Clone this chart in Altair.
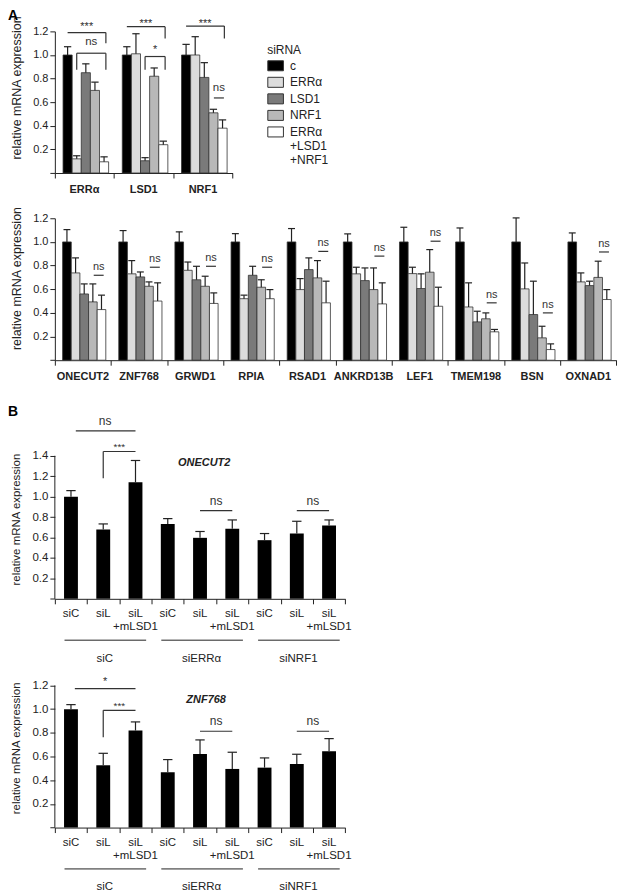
import altair as alt
import pandas as pd

FONT = "Liberation Sans"
INK = "#222222"

# ---------------- data ----------------
series = ["c", "ERRα", "LSD1", "NRF1", "ERRα+LSD1+NRF1"]
series_colors = ["#000000", "#dcdcdc", "#7a7a7a", "#b8b8b8", "#ffffff"]

# Panel A (top): knock-down efficiency
a1_genes = ["ERRα", "LSD1", "NRF1"]
a1_c_mean = [1.0, 1.0, 1.0]
a1_c_err = [0.07, 0.07, 0.09]
a1_errra_mean = [0.12, 1.01, 1.0]
a1_errra_err = [0.026, 0.17, 0.155]
a1_lsd1_mean = [0.85, 0.104, 0.81]
a1_lsd1_err = [0.075, 0.026, 0.125]
a1_nrf1_mean = [0.70, 0.82, 0.51]
a1_nrf1_err = [0.07, 0.07, 0.03]
a1_all_mean = [0.095, 0.24, 0.38]
a1_all_err = [0.042, 0.03, 0.07]

# Panel A (bottom): target genes
a2_genes = ["ONECUT2", "ZNF768", "GRWD1", "RPIA", "RSAD1",
            "ANKRD13B", "LEF1", "TMEM198", "BSN", "OXNAD1"]
a2_c_mean = [1.0, 1.0, 1.0, 1.0, 1.0, 1.0, 1.0, 1.0, 1.0, 1.0]
a2_c_err = [0.104, 0.096, 0.085, 0.07, 0.113, 0.068, 0.124, 0.118, 0.203, 0.076]
a2_errra_mean = [0.738, 0.73, 0.76, 0.52, 0.597, 0.73, 0.732, 0.45, 0.603, 0.662]
a2_errra_err = [0.127, 0.112, 0.07, 0.03, 0.093, 0.056, 0.054, 0.204, 0.219, 0.076]
a2_lsd1_mean = [0.56, 0.704, 0.68, 0.718, 0.766, 0.673, 0.606, 0.324, 0.386, 0.631]
a2_lsd1_err = [0.085, 0.042, 0.114, 0.076, 0.099, 0.107, 0.124, 0.09, 0.282, 0.037]
a2_nrf1_mean = [0.493, 0.625, 0.625, 0.617, 0.696, 0.597, 0.744, 0.35, 0.189, 0.70]
a2_nrf1_err = [0.152, 0.037, 0.085, 0.063, 0.146, 0.183, 0.191, 0.05, 0.098, 0.137]
a2_all_mean = [0.428, 0.50, 0.48, 0.52, 0.485, 0.476, 0.456, 0.24, 0.09, 0.513]
a2_all_err = [0.122, 0.154, 0.089, 0.077, 0.183, 0.178, 0.161, 0.02, 0.048, 0.084]
a2_ns_level = [0.718, 0.786, 0.794, 0.786, 0.92, 0.88, 1.006, 0.485, 0.40, 0.915]

# Panel B
b_conditions = ["siC", "siL", "siL\n+mLSD1"] * 3
b_groups = ["siC", "siERRα", "siNRF1"]
b1_mean = [1.0, 0.678, 1.14, 0.733, 0.597, 0.685, 0.574, 0.639, 0.717]
b1_err = [0.059, 0.055, 0.214, 0.052, 0.062, 0.087, 0.065, 0.12, 0.055]
b2_mean = [1.0, 0.526, 0.819, 0.467, 0.622, 0.495, 0.506, 0.537, 0.644]
b2_err = [0.038, 0.101, 0.073, 0.107, 0.118, 0.141, 0.082, 0.082, 0.107]

# significance annotations: (x, x2, y, y2) segments and (x, y, label, size) texts
a1_segments = [
    (1.4, 5.6, 1.19, 1.19), (5.6, 5.6, 1.19, 1.10),
    (2.4, 5.6, 1.015, 1.015), (2.4, 2.4, 1.015, 0.875), (5.6, 5.6, 1.015, 0.875),
    (7.9, 12.1, 1.24, 1.24), (12.1, 12.1, 1.24, 1.14),
    (9.9, 12.1, 0.987, 0.987), (9.9, 9.9, 0.987, 0.875), (12.1, 12.1, 0.987, 0.875),
    (14.4, 18.6, 1.245, 1.245), (18.6, 18.6, 1.245, 1.14),
    (17.45, 18.55, 0.636, 0.636),
]
a1_texts = [
    (3.5, 1.213, "***", 11), (4.0, 1.083, "ns", 11.5),
    (10.0, 1.241, "***", 11), (11.0, 1.021, "*", 11),
    (16.5, 1.241, "***", 11), (18.0, 0.697, "ns", 11.5),
]
b1_segments = [
    (0.65, 2.5, 1.644, 1.644),
    (1.5, 2.5, 1.442, 1.442), (1.5, 1.5, 1.442, 1.18),
    (4.5, 5.5, 0.863, 0.863), (7.5, 8.5, 0.863, 0.863),
]
b1_texts = [(1.56, 1.702, "ns", 12), (2.0, 1.452, "***", 10),
            (5.0, 0.914, "ns", 12), (8.0, 0.914, "ns", 12)]
b2_segments = [
    (0.62, 2.5, 1.173, 1.173),
    (1.5, 2.5, 0.99, 0.99), (1.5, 1.5, 0.99, 0.762),
    (4.5, 5.5, 0.813, 0.813), (7.5, 8.5, 0.813, 0.813),
]
b2_texts = [(1.56, 1.206, "*", 11), (2.0, 1.0, "***", 10),
            (5.0, 0.868, "ns", 12), (8.0, 0.868, "ns", 12)]

# ---------------- geometry ----------------
GROUP = 6.5
OFF = 0.9
CAP = 0.4


def grouped_df(genes, means, errs):
    rows = []
    for g, gene in enumerate(genes):
        for i, s in enumerate(series):
            x0 = g * GROUP + OFF + i
            m = means[i][g]
            rows.append(dict(gene=gene, series=s, x0=x0, x1=x0 + 1, xc=x0 + 0.5,
                             cl=x0 + 0.5 - CAP, cr=x0 + 0.5 + CAP,
                             mean=m, top=m + errs[i][g], base=0.0))
    return pd.DataFrame(rows)


def seg_df(segs):
    return pd.DataFrame(segs, columns=["x", "x2", "y", "y2"])


def txt_df(txts):
    return pd.DataFrame(txts, columns=["x", "y", "t", "fs"])


def y_axis(maxv, title_y, fsize, title_fs, show_domain=True):
    vals = [round(0.2 * k, 1) for k in range(int(round(maxv / 0.2)) + 1)]
    return alt.Axis(values=vals, tickCount=40,
                    labelExpr="datum.value == 0 ? '' : format(datum.value, '.1f')",
                    title="relative mRNA expression", tickSize=5, labelPadding=2,
                    labelOverlap=False, labelFontSize=fsize, labelColor=INK,
                    tickColor=INK, domainColor=INK, domain=show_domain,
                    grid=False, titleFontSize=title_fs, titleFontWeight="normal",
                    titleColor=INK, titleX=-38, titleY=title_y, titleBaseline="middle",
                    titleAngle=-90, titleAlign="center")


def x_axis(values):
    return alt.Axis(values=values, tickCount=40, labels=False, title=None, tickSize=5,
                    grid=False, domainColor=INK, tickColor=INK)


def grouped_panel(genes, means, errs, width, height, legend, title_y, segs, txts, letter=None):
    df = grouped_df(genes, means, errs)
    xs = alt.Scale(domain=[0, GROUP * len(genes)], nice=False, zero=False)
    ys = alt.Scale(domain=[0, 1.2], nice=False)
    base = alt.Chart(df)
    bars = base.mark_bar(stroke="#333333", strokeWidth=0.8).encode(
        x=alt.X("x0:Q", scale=xs, axis=x_axis([GROUP * k for k in range(len(genes) + 1)])),
        x2="x1:Q",
        y=alt.Y("mean:Q", scale=ys, axis=y_axis(1.2, title_y, 11, 12.5)), y2="base:Q",
        color=alt.Color("series:N", scale=alt.Scale(domain=series, range=series_colors),
                        sort=series, legend=legend))
    ev = base.mark_rule(color=INK, strokeWidth=1.2).encode(x="xc:Q", y="mean:Q", y2="top:Q")
    ec = base.mark_rule(color=INK, strokeWidth=1.2).encode(x="cl:Q", x2="cr:Q", y="top:Q")
    gl = alt.Chart(pd.DataFrame({"gene": genes, "gx": [GROUP * k + GROUP / 2 for k in range(len(genes))]}))
    glabels = gl.mark_text(font=FONT, fontSize=11, fontWeight="bold", color=INK,
                           baseline="alphabetic").encode(
        x="gx:Q", y=alt.value(height + 20), text="gene:N")
    segments = alt.Chart(seg_df(segs)).mark_rule(color="#333333", strokeWidth=1.2).encode(
        x="x:Q", x2="x2:Q", y="y:Q", y2="y2:Q")
    texts = alt.Chart(txt_df(txts)).mark_text(font=FONT, color="#333333",
                                              baseline="alphabetic").encode(
        x="x:Q", y="y:Q", text="t:N", size=alt.Size("fs:Q", scale=None, legend=None))
    layers = [bars, ev, ec, glabels, segments, texts]
    if letter:
        layers.append(alt.Chart(pd.DataFrame({"t": [letter]})).mark_text(
            font=FONT, fontSize=14, fontWeight="bold", color="#000000", align="left",
            baseline="middle").encode(x=alt.value(-47), y=alt.value(-15), text="t:N"))
    return alt.layer(*layers).properties(width=width, height=height)


def b_panel(mean, err, axis_max, dom_max, height, title, title_pos, segs, txts, letter=None):
    rows = []
    for i, (m, e) in enumerate(zip(mean, err)):
        rows.append(dict(cond=b_conditions[i], x0=i + 0.285, x1=i + 0.715, xc=i + 0.5,
                         cl=i + 0.355, cr=i + 0.645, mean=m, top=m + e, base=0.0))
    df = pd.DataFrame(rows)
    xs = alt.Scale(domain=[0, 9], nice=False, zero=False)
    ys = alt.Scale(domain=[0, dom_max], nice=False)
    yax = y_axis(axis_max, height - 80, 11.5, 11.5, show_domain=False)
    base = alt.Chart(df)
    bars = base.mark_bar(color="#000000").encode(
        x=alt.X("x0:Q", scale=xs, axis=x_axis(list(range(10)))), x2="x1:Q",
        y=alt.Y("mean:Q", scale=ys, axis=yax), y2="base:Q")
    ev = base.mark_rule(color=INK, strokeWidth=1.2).encode(x="xc:Q", y="mean:Q", y2="top:Q")
    ec = base.mark_rule(color=INK, strokeWidth=1.2).encode(x="cl:Q", x2="cr:Q", y="top:Q")
    yline = alt.Chart(pd.DataFrame({"y0": [0.0], "y1": [axis_max]})).mark_rule(
        color=INK, strokeWidth=1).encode(x=alt.value(0), y="y0:Q", y2="y1:Q")
    clabels = base.mark_text(font=FONT, fontSize=11.5, color=INK, baseline="alphabetic",
                             lineBreak="\n", lineHeight=13).encode(
        x="xc:Q", y=alt.value(height + 18.6), text="cond:N")
    gdf = pd.DataFrame({"grp": b_groups, "g0": [3 * k + 0.3 for k in range(3)],
                        "g1": [3 * k + 2.83 for k in range(3)],
                        "gc": [3 * k + 1.55 for k in range(3)]})
    glines = alt.Chart(gdf).mark_rule(color=INK, strokeWidth=1).encode(
        x="g0:Q", x2="g1:Q", y=alt.value(height + 41.5))
    gtext = alt.Chart(gdf).mark_text(font=FONT, fontSize=11.5, color=INK,
                                     baseline="alphabetic").encode(
        x="gc:Q", y=alt.value(height + 63), text="grp:N")
    segments = alt.Chart(seg_df(segs)).mark_rule(color="#333333", strokeWidth=1.2).encode(
        x="x:Q", x2="x2:Q", y="y:Q", y2="y2:Q")
    texts = alt.Chart(txt_df(txts)).mark_text(font=FONT, color="#333333",
                                              baseline="alphabetic").encode(
        x="x:Q", y="y:Q", text="t:N", size=alt.Size("fs:Q", scale=None, legend=None))
    ttl = alt.Chart(pd.DataFrame({"x": [title_pos[0]], "y": [title_pos[1]], "t": [title]})).mark_text(
        font=FONT, fontSize=11, fontWeight="bold", fontStyle="italic", color=INK,
        baseline="middle").encode(x="x:Q", y="y:Q", text="t:N")
    layers = [bars, ev, ec, yline, clabels, glines, gtext, segments, texts, ttl]
    if letter:
        layers.append(alt.Chart(pd.DataFrame({"t": [letter]})).mark_text(
            font=FONT, fontSize=14, fontWeight="bold", color="#000000", align="left",
            baseline="middle").encode(x=alt.value(-47), y=alt.value(6.5), text="t:N"))
    return alt.layer(*layers).properties(width=291.3, height=height)


legend_a = alt.Legend(
    orient="none", legendX=213, legendY=14, title="siRNA", titleFont=FONT,
    titleFontSize=12, titleFontWeight="normal", titleColor=INK, titlePadding=0,
    labelFont=FONT, labelFontSize=12, labelColor=INK,
    symbolType="M-1,-0.64H1V0.64H-1Z", symbolSize=246, symbolStrokeColor="#333333",
    symbolStrokeWidth=1, rowPadding=0.6, labelOffset=6,
    labelExpr="datum.label == 'ERRα+LSD1+NRF1' ? ['ERRα', '+LSD1', '+NRF1'] : datum.label")

a1 = grouped_panel(
    a1_genes,
    [a1_c_mean, a1_errra_mean, a1_lsd1_mean, a1_nrf1_mean, a1_all_mean],
    [a1_c_err, a1_errra_err, a1_lsd1_err, a1_nrf1_err, a1_all_err],
    178.3, 142.1, legend_a, 56.3, a1_segments, a1_texts, letter="A")

a2_segments = [(g * GROUP + 4.5, g * GROUP + 5.65, v, v) for g, v in enumerate(a2_ns_level)]
a2_texts = [(g * GROUP + 5.075, v + 0.043, "ns", 11) for g, v in enumerate(a2_ns_level)]
a2 = grouped_panel(
    a2_genes,
    [a2_c_mean, a2_errra_mean, a2_lsd1_mean, a2_nrf1_mean, a2_all_mean],
    [a2_c_err, a2_errra_err, a2_lsd1_err, a2_nrf1_err, a2_all_err],
    563.3, 142.4, None, 60, a2_segments, a2_texts)

b1 = b_panel(b1_mean, b1_err, 1.4, 1.8956, 194.3, "ONECUT2", (4.63, 1.329),
             b1_segments, b1_texts, letter="B")
b2 = b_panel(b2_mean, b2_err, 1.2, 1.551, 184.3, "ZNF768", (4.69, 1.074),
             b2_segments, b2_texts)

chart = alt.vconcat(a1, a2, b1, b2, spacing=44.5, bounds="flush").resolve_scale(
    color="independent").properties(padding=0).configure(font=FONT).configure_view(stroke=None)

chart.save("out.html", embed_options={"renderer": "svg", "actions": False})
